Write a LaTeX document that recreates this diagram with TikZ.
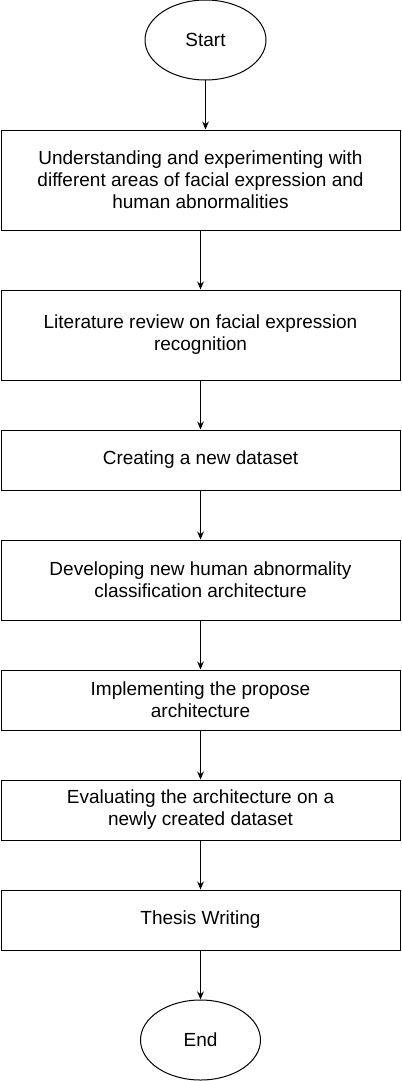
\documentclass[tikz,border=0pt]{standalone}
\usepackage{fontspec}
\setmainfont{Liberation Sans}
\usetikzlibrary{shapes.geometric,arrows.meta}
\begin{document}
\begin{tikzpicture}[x=0.75pt,y=-0.75pt,
  every node/.style={font=\fontsize{14.25pt}{16.6pt}\selectfont, inner sep=0pt, align=center},
  stepbox/.style={draw, line width=0.75pt, rectangle, minimum width=399*0.75pt},
  term/.style={draw, line width=0.75pt, ellipse, minimum width=121*0.75pt, minimum height=80*0.75pt},
  conn/.style={line width=0.75pt, -{Stealth[length=6pt,width=5pt]}}]
\useasboundingbox (0,0) rectangle (401,1081);
\node[term] (s) at (205.5,40) {Start};
\node[stepbox, minimum height=100*0.75pt] (b1) at (200.5,180) {Understanding and experimenting with\\different areas of facial expression and\\human abnormalities};
\node[stepbox, minimum height=90*0.75pt] (b2) at (200.5,335) {Literature review on facial expression\\recognition};
\node[stepbox, minimum height=60*0.75pt] (b3) at (200.5,460) {Creating a new dataset};
\node[stepbox, minimum height=80*0.75pt] (b4) at (200.5,580) {Developing new human abnormality\\classification architecture};
\node[stepbox, minimum height=60*0.75pt] (b5) at (200.5,700) {Implementing the propose\\architecture};
\node[stepbox, minimum height=60*0.75pt] (b6) at (200.5,810) {Evaluating the architecture on a\\newly created dataset};
\node[stepbox, minimum height=60*0.75pt] (b7) at (200.5,920) {Thesis Writing};
\node[term, minimum width=120*0.75pt] (e) at (200.5,1040) {End};
\draw[conn] (s.south) -- (s.south |- b1.north);
\draw[conn] (b1.south) -- (b2.north);
\draw[conn] (b2.south) -- (b3.north);
\draw[conn] (b3.south) -- (b4.north);
\draw[conn] (b4.south) -- (b5.north);
\draw[conn] (b5.south) -- (b6.north);
\draw[conn] (b6.south) -- (b7.north);
\draw[conn] (b7.south) -- (e.north);
\end{tikzpicture}
\end{document}
